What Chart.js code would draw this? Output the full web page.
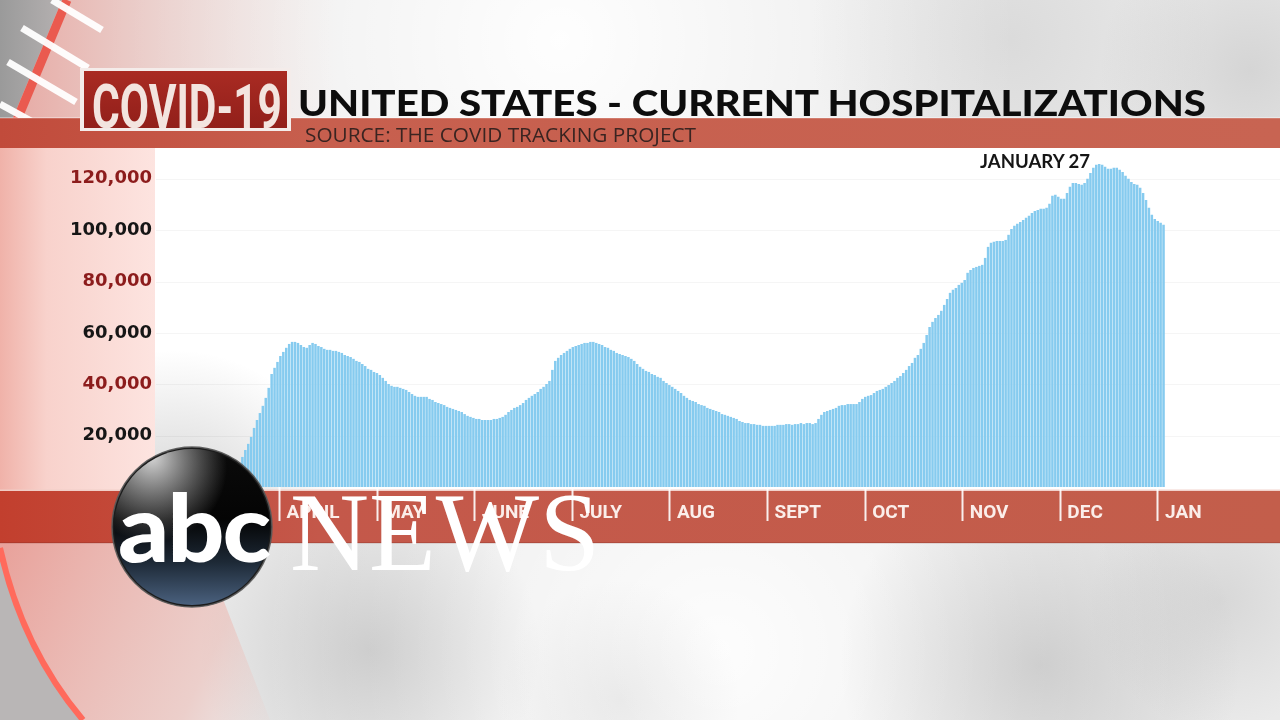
<!DOCTYPE html>
<html>
<head>
<meta charset="utf-8">
<script src="https://cdn.jsdelivr.net/npm/chart.js@4.4.1/dist/chart.umd.min.js"></script>
<style>
html,body{margin:0;padding:0;width:1280px;height:720px;overflow:hidden;background:#ececec}
canvas{position:absolute;left:0;top:0}
#bg{z-index:0}
#chart{z-index:1}
#fg{z-index:3}
.txt{position:absolute;z-index:4;white-space:nowrap;line-height:1;transform-origin:0 0;margin:0;padding:0}
#covid{font:700 62px Roboto,sans-serif;color:#f3e4df}
#title{font:900 36px Lato,sans-serif;color:#0d0d0d}
#source{font:400 20px "Open Sans",sans-serif;color:#3a2421}
#peak{font:700 19.5px Lato,sans-serif;color:#151515}
#news{font:400 113px "Liberation Serif",serif;color:#ffffff}
#abc{font:900 94px Lato,sans-serif;color:#ffffff;letter-spacing:-2px}
</style>
</head>
<body>
<canvas id="bg" width="1280" height="720"></canvas>
<canvas id="chart" width="1280" height="720"></canvas>
<canvas id="fg" width="1280" height="720"></canvas>
<div id="covid" class="txt">COVID-19</div>
<div id="title" class="txt">UNITED STATES - CURRENT HOSPITALIZATIONS</div>
<div id="source" class="txt">SOURCE: THE COVID TRACKING PROJECT</div>
<div id="peak" class="txt">JANUARY 27</div>
<div id="abc" class="txt">abc</div>
<div id="news" class="txt">NEWS</div>
<script>
// ---------------- DATA ----------------
const startDate = [2020, 2, 17]; // 17 March 2020, one bar per day
const hospitalizations = [
  9400, 11700, 14400, 16800, 19500, 23000, 26100, 28800, 31600, 34700,
  38600, 44000, 46400, 48700, 51000, 52600, 54200, 55700, 56500, 56500,
  56100, 55300, 54500, 54200, 55300, 56100, 55700, 54900, 54500, 53800,
  53400, 53400, 53000, 53000, 52600, 52200, 51400, 51000, 50600, 49900,
  49100, 48700, 47900, 47100, 46000, 45600, 44800, 44400, 43600, 42500,
  41300, 40100, 39400, 39000, 39000, 38600, 38200, 37800, 37000, 36200,
  35500, 35100, 35100, 35100, 35100, 34300, 33900, 33100, 32700, 32300,
  31900, 31200, 30800, 30400, 30000, 29600, 29200, 28400, 27700, 27300,
  26900, 26500, 26500, 26100, 26100, 26100, 26100, 26500, 26500, 26900,
  27300, 28100, 29200, 30000, 30800, 31200, 31900, 32700, 33900, 34700,
  35500, 36200, 37000, 38200, 39000, 40100, 41300, 45600, 49100, 50300,
  51400, 52200, 53000, 53800, 54500, 54900, 55300, 55700, 56100, 56100,
  56500, 56500, 56100, 55700, 55300, 54500, 54200, 53400, 53000, 52200,
  51800, 51400, 51000, 50600, 49900, 49100, 47900, 46800, 46000, 45200,
  44800, 44000, 43600, 42900, 42500, 41300, 40500, 39700, 39000, 38200,
  37400, 36600, 35500, 34700, 33900, 33500, 33100, 32300, 31900, 31600,
  30800, 30400, 30000, 29600, 29200, 28400, 28100, 27700, 27300, 26900,
  26500, 25700, 25300, 24900, 24900, 24500, 24500, 24200, 24200, 23800,
  23800, 23800, 23800, 23800, 24200, 24200, 24200, 24500, 24500, 24200,
  24500, 24500, 24900, 24500, 24900, 24900, 24500, 24900, 26500, 28100,
  29200, 29600, 30000, 30400, 30800, 31600, 31900, 31900, 32300, 32300,
  32300, 32300, 33100, 34300, 35100, 35500, 35800, 36600, 37400, 37800,
  38200, 39000, 39700, 40500, 41300, 42500, 43200, 44400, 45600, 47100,
  48300, 50300, 51400, 53800, 56100, 59200, 62300, 64300, 65800, 67000,
  68600, 70900, 73200, 75600, 76800, 77500, 78700, 79500, 80600, 83400,
  84500, 85300, 85700, 86100, 86500, 89200, 93500, 95100, 95500, 95800,
  95800, 95800, 96200, 98200, 100500, 101700, 102500, 103200, 104000, 104800,
  105600, 106700, 107500, 107900, 108300, 108300, 108700, 110300, 113400, 113800,
  113000, 112200, 112200, 114500, 116900, 118400, 118400, 118000, 117700, 118400,
  120000, 122300, 124300, 125500, 125800, 125500, 124700, 123900, 123900, 124300,
  124300, 123500, 122700, 121200, 120000, 118800, 118000, 117700, 116500, 114500,
  111800, 108700, 106000, 104400, 103600, 102900, 102100
];
const monthLabels = ['APRIL', 'MAY', 'JUNE', 'JULY', 'AUG', 'SEPT', 'OCT', 'NOV', 'DEC', 'JAN'];
const yTickValues = [20000, 40000, 60000, 80000, 100000, 120000];

const dates = hospitalizations.map((_, i) =>
  new Date(Date.UTC(startDate[0], startDate[1], startDate[2] + i)).toISOString().slice(0, 10));

// ---------------- BACKGROUND ----------------
(function drawBg() {
  const b = document.getElementById('bg').getContext('2d');
  b.fillStyle = '#eaeaea';
  b.fillRect(0, 0, 1280, 720);
  function blob(x, y, r, c0, c1) {
    const g = b.createRadialGradient(x, y, 0, x, y, r);
    g.addColorStop(0, c0); g.addColorStop(1, c1);
    b.fillStyle = g; b.fillRect(x - r, y - r, 2 * r, 2 * r);
  }
  blob(560, 40, 460, 'rgba(255,255,255,0.95)', 'rgba(255,255,255,0)');
  blob(720, 650, 460, 'rgba(255,255,255,0.9)', 'rgba(255,255,255,0)');
  blob(1010, 40, 200, 'rgba(165,165,165,0.22)', 'rgba(165,165,165,0)');
  blob(1250, 70, 150, 'rgba(150,150,150,0.25)', 'rgba(150,150,150,0)');
  blob(370, 650, 170, 'rgba(130,130,130,0.3)', 'rgba(130,130,130,0)');
  blob(1040, 665, 200, 'rgba(130,130,130,0.3)', 'rgba(130,130,130,0)');
  blob(1220, 600, 130, 'rgba(150,150,150,0.22)', 'rgba(150,150,150,0)');
  blob(620, 700, 120, 'rgba(170,170,170,0.18)', 'rgba(170,170,170,0)');

  // top-left pink wash
  let g = b.createLinearGradient(0, 0, 340, 0);
  g.addColorStop(0, 'rgba(228,120,110,0.6)');
  g.addColorStop(1, 'rgba(240,190,180,0)');
  b.fillStyle = g; b.fillRect(0, 0, 340, 120);
  // grey strip with red stripe and white bars
  b.beginPath(); b.moveTo(0, 0); b.lineTo(62, 0); b.lineTo(12, 120); b.lineTo(0, 120); b.closePath();
  g = b.createLinearGradient(0, 0, 60, 0);
  g.addColorStop(0, '#9a9a9a'); g.addColorStop(1, '#b4b0b0');
  b.fillStyle = g; b.fill();
  b.strokeStyle = '#ea5a4f'; b.lineWidth = 9;
  b.beginPath(); b.moveTo(67, 0); b.lineTo(17, 120); b.stroke();
  b.strokeStyle = 'rgba(255,255,255,0.95)'; b.lineWidth = 7; b.lineCap = 'butt';
  [[52, 0, 102, 30], [22, 28, 88, 68], [8, 62, 76, 102], [0, 104, 62, 138]].forEach(l => {
    b.beginPath(); b.moveTo(l[0], l[1]); b.lineTo(l[2], l[3]); b.stroke();
  });

  // bottom-left pink / grey / red arc
  g = b.createLinearGradient(0, 560, 300, 700);
  g.addColorStop(0, 'rgba(232,150,142,0.85)');
  g.addColorStop(0.7, 'rgba(238,180,172,0.5)');
  g.addColorStop(1, 'rgba(240,200,195,0)');
  b.fillStyle = g;
  b.beginPath(); b.moveTo(0, 540); b.lineTo(200, 540); b.lineTo(270, 720); b.lineTo(0, 720); b.closePath(); b.fill();
  b.fillStyle = '#b9b6b6';
  b.beginPath(); b.moveTo(0, 552); b.quadraticCurveTo(22, 650, 80, 720); b.lineTo(0, 720); b.closePath(); b.fill();
  b.strokeStyle = '#ff6a5c'; b.lineWidth = 6;
  b.beginPath(); b.moveTo(0, 548); b.quadraticCurveTo(22, 648, 83, 720); b.stroke();

  // left pink column beside the plot panel
  g = b.createLinearGradient(0, 0, 156, 0);
  g.addColorStop(0, '#f0b2a9'); g.addColorStop(0.3, '#f8d2cc'); g.addColorStop(1, '#fde4e0');
  b.fillStyle = g; b.fillRect(0, 148, 156, 343);

  // white plot panel
  b.fillStyle = '#ffffff'; b.fillRect(155, 148, 1125, 343);
  b.save(); b.beginPath(); b.rect(155, 148, 1125, 343); b.clip();
  blob(175, 520, 170, 'rgba(120,120,120,0.35)', 'rgba(120,120,120,0)');
  b.restore();

  // source band
  g = b.createLinearGradient(0, 0, 1280, 0);
  g.addColorStop(0, '#c14b3b'); g.addColorStop(0.25, '#c75f4e'); g.addColorStop(1, '#c86452');
  b.fillStyle = g; b.fillRect(0, 118, 1280, 30);
  b.fillStyle = 'rgba(255,255,255,0.35)'; b.fillRect(0, 117, 1280, 1.5);
  // month band
  g = b.createLinearGradient(0, 0, 1280, 0);
  g.addColorStop(0, '#c23f2e'); g.addColorStop(0.25, '#c4584a'); g.addColorStop(1, '#c35e4b');
  b.fillStyle = g; b.fillRect(0, 491, 1280, 52);
  b.fillStyle = 'rgba(240,205,198,0.9)'; b.fillRect(0, 489.5, 1280, 1.5);
  b.fillStyle = 'rgba(120,40,30,0.25)'; b.fillRect(0, 542, 1280, 1.5);
})();

// ---------------- CHART ----------------
const panelGrid = {
  id: 'panelGrid',
  beforeDatasetsDraw(chart) {
    const { ctx, scales } = chart;
    ctx.save();
    ctx.strokeStyle = 'rgba(0,0,0,0.04)';
    ctx.lineWidth = 1;
    yTickValues.forEach(v => {
      const py = Math.round(scales.y.getPixelForValue(v)) + 0.5;
      ctx.beginPath(); ctx.moveTo(156, py); ctx.lineTo(1280, py); ctx.stroke();
    });
    ctx.restore();
  }
};

new Chart(document.getElementById('chart'), {
  type: 'bar',
  data: {
    labels: dates,
    datasets: [{
      data: hospitalizations,
      xAxisID: 'x', yAxisID: 'y',
      backgroundColor: '#86cbef',
      borderWidth: 0,
      barPercentage: 1,
      categoryPercentage: 0.86
    }]
  },
  options: {
    responsive: false,
    animation: false,
    devicePixelRatio: 1,
    layout: { padding: { left: 0, right: 115, top: 148, bottom: 0 } },
    plugins: { legend: { display: false }, tooltip: { enabled: false } },
    scales: {
      x: { type: 'category', display: false },
      months: {
        type: 'linear', position: 'bottom',
        offset: false,
        min: -0.426, max: 9.072,
        afterBuildTicks: s => { s.ticks = monthLabels.map((_, i) => ({ value: i })); },
        afterFit: s => { s.height = 233; },
        ticks: {
          autoSkip: false, maxRotation: 0, minRotation: 0,
          align: 'start', labelOffset: 7, padding: -19,
          color: '#fbeeea',
          font: { family: 'Roboto', weight: '700', size: 19 },
          callback: (v, i) => monthLabels[i]
        },
        grid: {
          display: true, offset: false, drawOnChartArea: false, drawTicks: true,
          tickLength: 34, tickWidth: 2, tickColor: 'rgba(255,255,255,0.9)',
          color: 'rgba(0,0,0,0)'
        },
        border: { display: false }
      },
      y: {
        type: 'linear', min: 0, max: 132000,
        afterBuildTicks: s => { s.ticks = yTickValues.map(v => ({ value: v })); },
        afterFit: s => { s.width = 238; },
        ticks: {
          padding: 86,
          color: c => ((c.tick.value / 20000) % 2 === 0 ? '#8c1c1c' : '#161616'),
          font: { family: 'DejaVu Sans', weight: 'bold', size: 18 },
          callback: v => v.toLocaleString('en-US')
        },
        grid: { display: false, drawTicks: false },
        border: { display: false }
      }
    }
  },
  plugins: [panelGrid]
});

// ---------------- FOREGROUND (boxes, logo) ----------------
(function drawFg() {
  const f = document.getElementById('fg').getContext('2d');
  // COVID-19 box
  f.fillStyle = '#f4ecea'; f.fillRect(80, 68, 211, 63);
  let g = f.createLinearGradient(0, 71, 0, 128);
  g.addColorStop(0, '#a92b23'); g.addColorStop(1, '#921f1a');
  f.fillStyle = g; f.fillRect(84, 71, 203, 57);
  // abc circle
  const cx = 192, cy = 527, R = 80;
  f.beginPath(); f.arc(cx, cy, R, 0, Math.PI * 2); f.fillStyle = '#1c1c1c'; f.fill();
  g = f.createLinearGradient(cx, cy - R, cx, cy + R);
  g.addColorStop(0, '#0b0b0b'); g.addColorStop(0.45, '#040404');
  g.addColorStop(0.72, '#1d2936'); g.addColorStop(1, '#4c6381');
  f.beginPath(); f.arc(cx, cy, R - 2, 0, Math.PI * 2); f.fillStyle = g; f.fill();
  f.save(); f.beginPath(); f.arc(cx, cy, R - 2, 0, Math.PI * 2); f.clip();
  g = f.createRadialGradient(cx - 40, cy - 70, 4, cx - 40, cy - 60, 75);
  g.addColorStop(0, 'rgba(235,235,235,0.85)'); g.addColorStop(1, 'rgba(200,200,200,0)');
  f.fillStyle = g; f.fillRect(cx - R, cy - R, 2 * R, 2 * R);
  f.restore();
  f.beginPath(); f.arc(cx, cy, R, 0, Math.PI * 2);
  f.strokeStyle = 'rgba(90,90,90,0.9)'; f.lineWidth = 1.5; f.stroke();
})();

// ---------------- TEXT PLACEMENT ----------------
function place(id, left, top, width) {
  const el = document.getElementById(id);
  el.style.transform = 'none';
  el.style.left = left + 'px';
  el.style.top = top + 'px';
  const w = el.getBoundingClientRect().width;
  el.style.transform = 'scaleX(' + (width / w) + ')';
}
function layoutText() {
  place('covid', 92, 70, 190);
  place('title', 298, 80, 908);
  place('source', 305, 121, 391);
  place('peak', 980, 149, 110);
  place('abc', 118, 469, 151);
  place('news', 290, 467, 310);
}
layoutText();
if (document.fonts && document.fonts.ready) document.fonts.ready.then(layoutText);
</script>
</body>
</html>
